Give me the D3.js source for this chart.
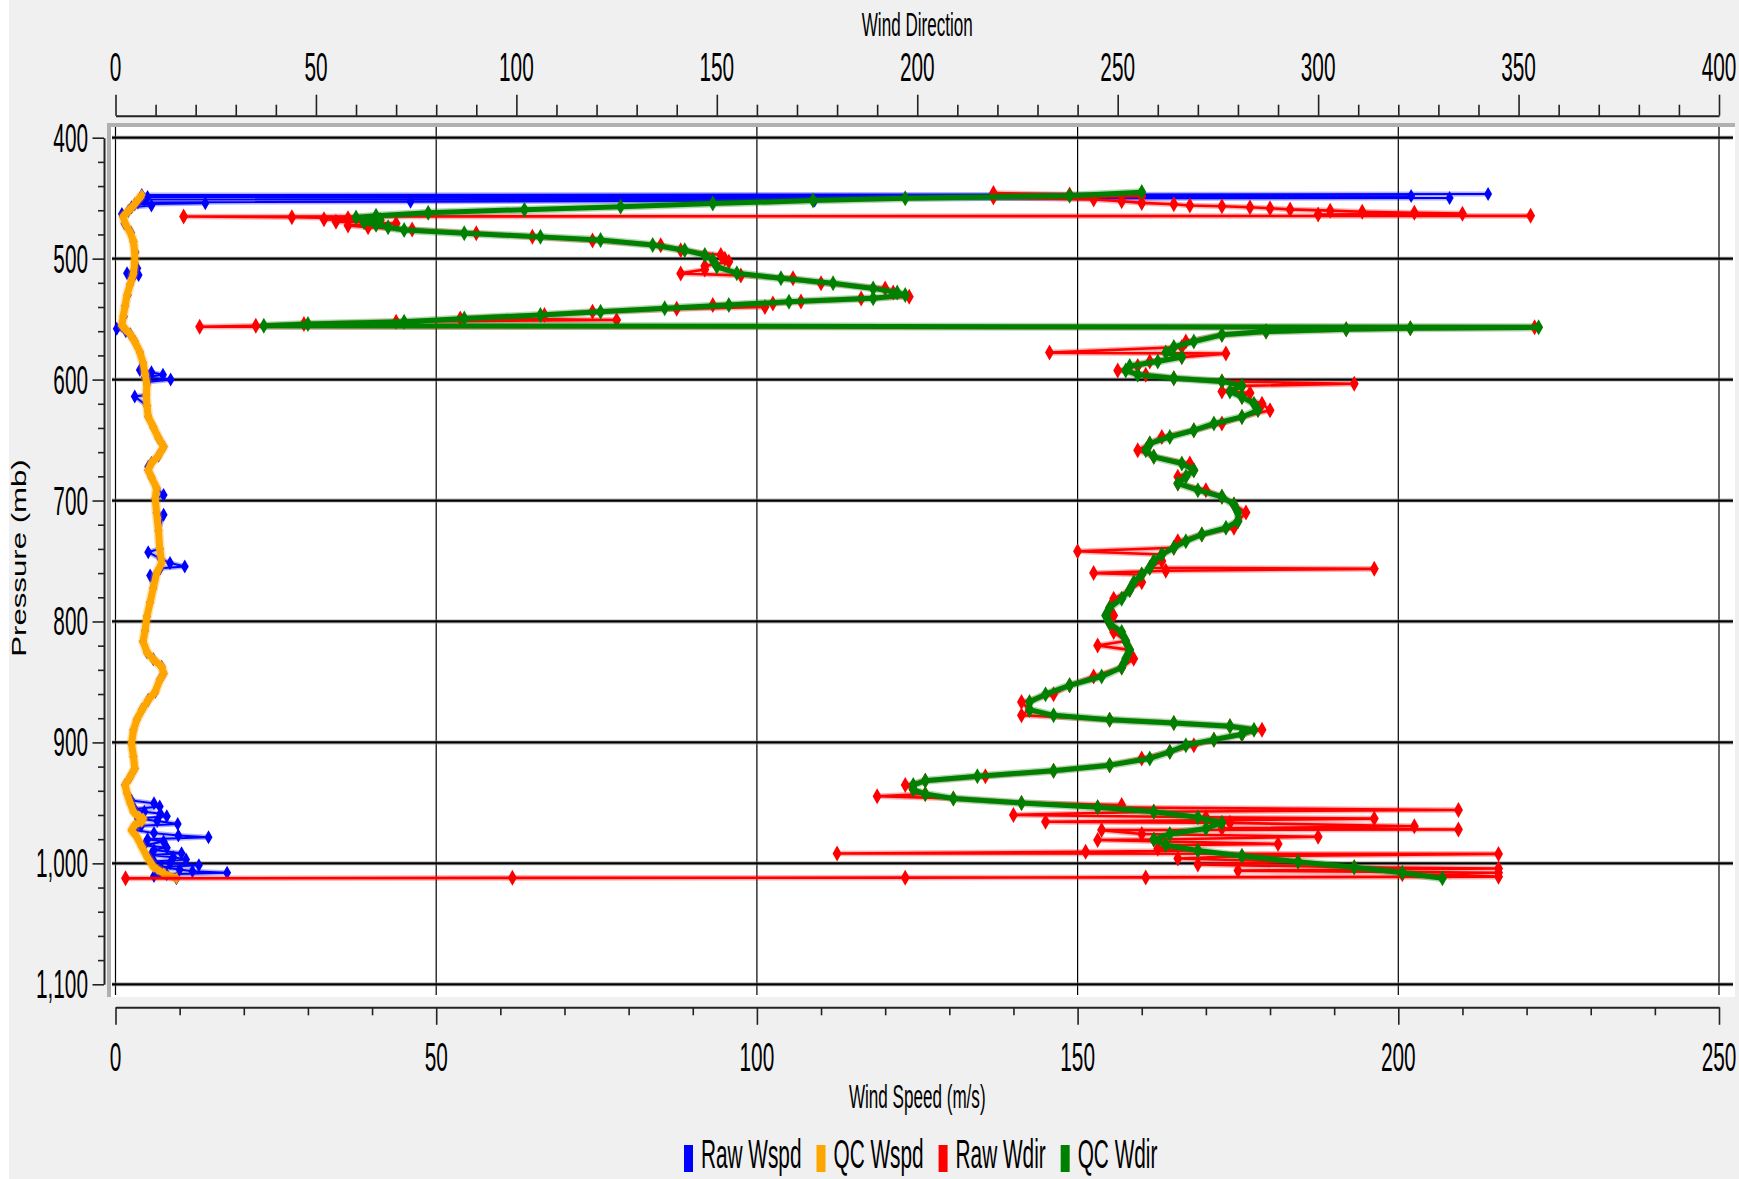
<!DOCTYPE html>
<html>
<head>
<meta charset="utf-8">
<script src="https://cdn.jsdelivr.net/npm/d3@7"></script>
<style>
  html, body { margin: 0; padding: 0; background: #f0f0f0; }
  svg { display: block; }
  text { font-family: "Liberation Sans", Arial, sans-serif; fill: #000; }
</style>
</head>
<body>
<svg id="chart" width="1739" height="1179"></svg>
<script>
// ---- Sounding profile: [pressure (mb), value] ----
const rawWspd = [
  [446.6,214],[447.4,4.1],[448.2,202],[449,5],[449.8,208],[451,4.5],[452,109],[452.9,46],[453.5,3.5],[454.3,14],
  [455,3.0],[456,5.6],[457.5,2.5],[460.7,2.0],[463,1.0],[465.1,1.2],[471,1.4],[478.4,2.4],[485.8,2.8],[494.7,3.1],
  [503.5,3.0],[508,3.4],[512,1.8],[513.5,3.6],[515,2.8],[521.2,2.3],[530.1,1.9],[539,1.5],[547.8,1.3],[555.2,1.0],
  [558,0.2],[560,1.6],[562.6,2.3],[568.5,3.0],[577.3,3.8],[586.2,4.3],[592,3.8],[594,5.6],[596,7.4],[598,4.6],
  [600,8.6],[602,5.0],[603.9,4.9],[612.8,4.8],[614,3.0],[621.6,4.9],[630.5,5.1],[639.4,5.9],[648.2,6.7],[655.6,7.5],
  [663,6.7],[668.9,5.6],[672,5.1],[674.8,5.1],[680.7,5.6],[689.6,6.4],[695.5,7.5],[698.4,6.2],[710.2,6.4],[711.7,7.5],
  [725,6.7],[739.8,6.9],[742.7,5.1],[748,7.0],[751.6,8.5],[754.5,10.8],[756,7.0],[760.4,6.4],[762,5.4],[772.2,5.9],
  [784.1,5.4],[795.9,4.9],[807.7,4.6],[816.5,4.3],[825.4,4.9],[831.3,5.9],[837.4,7.2],[843.1,7.5],[848.4,6.9],[858.1,6.2],
  [865,5.1],[873.2,4.1],[881.5,3.3],[889.8,2.8],[900.8,2.5],[911.8,2.8],[921.5,3.0],[928.4,2.3],[935.3,1.5],[942.1,1.8],
  [948,2.5],[950.4,6.0],[953,6.9],[955,3.0],[957.3,4.5],[959,7.0],[961,8.0],[963,3.5],[965,6.5],[967.4,9.7],
  [969,4.0],[972.5,3.0],[975,6.0],[977,9.8],[978.4,14.5],[980,5.0],[982,7.5],[985,4.5],[987,8.0],[989,6.0],
  [991.7,10.3],[993,5.5],[995,9.0],[996.8,11.0],[998.5,6.0],[1000,8.5],[1001.5,13.0],[1003,7.0],[1005,10.0],[1006.5,12.0],
  [1007.8,17.4],[1009,8.0],[1010.5,6.0],[1012.4,9.5]
];

const qcWspd = [
  [447.4,4.1],[454.8,3.0],[460.7,2.0],[465.1,1.2],[471,1.5],[478.4,2.3],[485.8,2.8],[494.7,3.0],[503.5,3.0],[512.4,2.8],
  [521.2,2.3],[530.1,1.8],[539,1.5],[547.8,1.2],[555.2,1.0],[558.2,1.5],[562.6,2.3],[568.5,3.0],[577.3,3.8],[586.2,4.3],
  [595,4.6],[603.9,4.9],[612.8,4.8],[621.6,4.9],[630.5,5.1],[639.4,5.9],[648.2,6.7],[655.6,7.5],[663,6.7],[668.9,5.6],
  [674.8,5.1],[680.7,5.6],[689.6,6.4],[698.4,6.2],[710.2,6.4],[725,6.7],[739.8,6.9],[751.6,7.2],[760.4,6.4],[772.2,5.9],
  [784.1,5.4],[795.9,4.9],[807.7,4.6],[816.5,4.3],[825.4,4.9],[831.3,5.9],[837.4,7.2],[843.1,7.5],[848.4,6.9],[858.1,6.2],
  [865,5.1],[873.2,4.1],[881.5,3.3],[889.8,2.8],[900.8,2.5],[911.8,2.8],[921.5,3.0],[928.4,2.3],[935.3,1.5],[942.1,1.8],
  [950.4,2.3],[957.3,2.8],[961.4,3.6],[963,4.3],[965.6,4.1],[968.3,3.0],[972.5,2.5],[978,3.3],[986.2,4.1],[994.5,4.9],
  [1002.8,5.9],[1008.3,7.5],[1012.4,9.5]
];

const rawWdir = [
  [445.7,219],[447,238],[448.2,256],[449.5,219],[451,244],[452.5,251],[453.9,256],[455,264],[456,268],[456.7,276],
  [457.5,283],[458.3,288],[459.3,293],[460.3,303],[461.2,311],[462,324],[462.8,336],[463.6,300],[464.6,353],[465.2,17],
  [465.8,44],[466.5,58],[467.5,52],[468.5,66],[469.5,55],[471,70],[472.5,58],[474,63],[476,74],[479,90],
  [482,104],[485,119],[489,136],[493,141],[497,151],[500,152],[502.5,153],[506,147],[509,147],[512.2,141],
  [514,156],[516.3,169],[520.4,176],[524.6,192],[528,194],[531.5,198],[533,186],[535.5,171],[537,164],[538.4,149],
  [540,162],[541.5,140],[544,119],[546.6,107],[549.4,86],[550.7,125],[552.1,70],[554,47],[555.5,35],[556.3,21],
  [556.8,354],[557.5,323],[558.4,307],[560.3,287],[563,276],[568.5,267],[573,266],[577.7,233],[578.5,277],[581.4,266],
  [585,258],[588.7,255],[592.4,250],[596,257],[598.8,264],[601.5,276],[603.4,309],[605.2,281],[609.8,276],[611,283],
  [614.4,281],[619.9,286],[625.4,288],[630.9,281],[636.4,276],[641.9,269],[647.4,261],[652.9,258],[658.4,255],[663.9,259],
  [669.4,268],[674.9,269],[680.4,265],[685.9,265],[691.4,272],[696.9,276],[703.3,279],[709.8,282],[717.1,280],[722.6,279],
  [728.1,271],[733.6,265],[739.1,264],[741.9,240],[744.6,261],[750.1,261],[755.6,258],[756.5,314],[758,262],[760,244],
  [761.1,256],[767.5,256],[773.9,253],[781.3,249],[788.6,248],[795,249],[801.5,248],[808.8,249],[816.1,252],[819.8,245],
  [823.5,253],[830.8,254],[838.1,251],[845.5,244],[852.8,238],[860.1,234],[866.6,226],[873,228],[877.6,226],[881.2,248],
  [884,264],[886.7,278],[889.5,286],[893.2,281],[897.7,274],[902.3,269],[907.8,263],[913.3,256],[918.8,248],[923.4,234],
  [928,217],[931.7,202],[935.3,197],[939,199],[942.7,202],[944.5,190],[946.3,209],[950,226],[951.8,251],[953.7,245],
  [955.9,335],[957.3,259],[960,224],[961.9,272],[963,314],[965.6,232],[966.5,278],[969.3,324],[971.1,276],[972,335],
  [972.5,246],[975.7,256],[978,300],[980.3,259],[980.7,245],[984,290],[984.9,262],[988,260],[989.4,270],[990.4,242],
  [991.8,180],[992.2,345],[994,281],[996,265],[998.6,295],[1001,270],[1003.2,309],[1004.2,345],[1006,280],[1007.8,345],
  [1009,321],[1011,345],[1011.6,257],[1011.8,197],[1012,99],[1012.4,2.5]
];

const qcWdir = [
  [445,256],[448,238],[450,197],[452,174],[454.5,149],[457,126],[459.5,102],[462,78],[464.5,65],[466,60],
  [468,66],[470,62],[472,65],[474,68],[476.3,72],[479,87],[482,106],[484.6,121],[488.7,134],[493,142],
  [497,147],[501,149],[506.7,150],[512,155],[516.3,166],[520.4,179],[524.6,189],[528,195],[530.1,197],[532.8,189],
  [535.6,168],[538.4,153],[541.1,137],[543.9,121],[546.6,106],[549.4,87],[552.1,72],[554.1,48],[555.4,37],[556.8,355],
  [557.5,323],[558.4,307],[560.3,287],[563,276],[568.5,269],[573,264],[577.7,262],[581.4,266],[585,260],[588.7,253],
  [592.4,252],[596,255],[598.8,264],[601.5,276],[605.2,281],[609.8,278],[614.4,281],[619.9,284],[625.4,285],[630.9,281],
  [636.4,274],[641.9,269],[647.4,263],[652.9,258],[658.4,257],[663.9,259],[669.4,266],[674.9,269],[680.4,267],[685.9,265],
  [691.4,270],[696.9,276],[703.3,279],[709.8,280],[717.1,280],[722.6,277],[728.1,271],[733.6,267],[739.1,264],[744.6,261],
  [750.1,259],[755.6,258],[761.1,256],[767.5,254],[773.9,253],[781.3,251],[788.6,248],[795,247],[801.5,248],[808.8,251],
  [816.1,252],[823.5,253],[830.8,252],[838.1,251],[845.5,246],[852.8,238],[860.1,232],[866.6,228],[873,228],[877.6,234],
  [881.2,248],[884,264],[886.7,278],[889.5,284],[893.2,281],[897.7,274],[902.3,267],[907.8,263],[913.3,258],[918.8,248],
  [923.4,234],[928,215],[931.7,202],[935.3,199],[939,199],[942.7,202],[946.3,209],[950,226],[953.7,245],[957.3,259],
  [961.9,270],[966.5,276],[971.1,272],[975.7,263],[980.3,259],[984.9,262],[989.4,270],[994,281],[998.6,295],[1003.2,309],
  [1007.8,321],[1012.4,331]
];

// ---- Axis tick values ----
const pressureTicks = [400, 500, 600, 700, 800, 900, 1000, 1100];
const speedTicks = [0, 50, 100, 150, 200, 250];
const directionTicks = [0, 50, 100, 150, 200, 250, 300, 350, 400];

const legendItems = [
  { label: "Raw Wspd", color: "#0000ff" },
  { label: "QC Wspd",  color: "#ffa500" },
  { label: "Raw Wdir", color: "#ff0000" },
  { label: "QC Wdir",  color: "#008000" }
];

// ---- Layout ----
const W = 1739, H = 1179;
const X0 = 115.5, X1 = 1719, Y0 = 137.7, Y1 = 984.3;
const panel = { x: 111, y: 127, w: 1624, h: 870 };
const SX = 0.52; // horizontal squeeze of all lettering

const speedX = d3.scaleLinear().domain([0, 250]).range([X0, X1]);
const dirX = d3.scaleLinear().domain([0, 400]).range([X0, X1]);
const presY = d3.scaleLinear().domain([400, 1100]).range([Y0, Y1]);

const svg = d3.select("#chart");

function sText(parent, x, y, str, size, anchor, sx = SX) {
  return parent.append("text")
    .attr("transform", `translate(${x},${y}) scale(${sx},1)`)
    .attr("text-anchor", anchor)
    .attr("font-size", size)
    .text(str);
}

// background & panel
svg.append("rect").attr("width", W).attr("height", H).attr("fill", "#f0f0f0");
svg.append("rect").attr("x", 0).attr("y", 0).attr("width", 9).attr("height", H).attr("fill", "#ffffff");
svg.append("rect").attr("x", panel.x).attr("y", panel.y).attr("width", panel.w).attr("height", panel.h).attr("fill", "#ffffff");
// inset bevel (top + left)
svg.append("rect").attr("x", 107).attr("y", 123).attr("width", panel.x + panel.w - 107).attr("height", 4).attr("fill", "#b0b0b0");
svg.append("rect").attr("x", 107).attr("y", 123).attr("width", 4).attr("height", panel.y + panel.h - 123).attr("fill", "#b0b0b0");

svg.append("defs").append("clipPath").attr("id", "plotClip")
  .append("rect").attr("x", panel.x).attr("y", panel.y).attr("width", panel.w).attr("height", panel.h);

// grid
const grid = svg.append("g");
grid.selectAll("line.v").data(speedTicks).join("line")
  .attr("x1", d => speedX(d)).attr("x2", d => speedX(d))
  .attr("y1", panel.y).attr("y2", 995)
  .attr("stroke", "#000").attr("stroke-width", 1.2);
grid.selectAll("line.hh").data(pressureTicks).join("line")
  .attr("x1", panel.x + 1).attr("x2", 1733)
  .attr("y1", d => presY(d)).attr("y2", d => presY(d))
  .attr("stroke", "#8a8a8a").attr("stroke-width", 4.5).attr("stroke-opacity", 0.45);
grid.selectAll("line.h").data(pressureTicks).join("line")
  .attr("x1", panel.x + 1).attr("x2", 1733)
  .attr("y1", d => presY(d)).attr("y2", d => presY(d))
  .attr("stroke", "#000").attr("stroke-width", 2.2);

// axes
function styleAxis(g) {
  g.select(".domain").attr("stroke", "#222").attr("stroke-width", 2);
  g.selectAll(".tick line").attr("stroke", "#222").attr("stroke-width", 1.6);
}

const topAxis = svg.append("g").attr("transform", "translate(0,115.7)")
  .call(d3.axisTop(dirX).tickValues(d3.range(0, 401, 10)).tickSize(11).tickSizeOuter(0).tickFormat(""));
topAxis.selectAll(".tick").filter(d => d % 50 === 0).select("line").attr("y2", -21);
styleAxis(topAxis);

const bottomAxis = svg.append("g").attr("transform", "translate(0,1007.3)")
  .call(d3.axisBottom(speedX).tickValues(d3.range(0, 251, 10)).tickSize(8).tickSizeOuter(0).tickFormat(""));
bottomAxis.selectAll(".tick").filter(d => d % 50 === 0).select("line").attr("y2", 17.5);
styleAxis(bottomAxis);

const leftAxis = svg.append("g").attr("transform", "translate(104,0)")
  .call(d3.axisLeft(presY).tickValues(d3.range(400, 1101, 20)).tickSize(6).tickSizeOuter(0).tickFormat(""));
leftAxis.selectAll(".tick").filter(d => d % 100 === 0).select("line").attr("x2", -11.5);
styleAxis(leftAxis);

// tick labels
directionTicks.forEach(v => sText(svg, dirX(v), 81, v, 40, "middle"));
speedTicks.forEach(v => sText(svg, speedX(v), 1071, v, 40, "middle"));
const fmt = d3.format(",");
pressureTicks.forEach(v => sText(svg, 88, presY(v) + 14, fmt(v), 40, "end"));

// titles
sText(svg, (X0 + X1) / 2, 36, "Wind Direction", 33.5, "middle", 0.51);
sText(svg, (X0 + X1) / 2, 1108, "Wind Speed (m/s)", 33.5, "middle", 0.51);
svg.append("text")
  .attr("transform", "translate(26,558) rotate(-90) scale(1.56,1)")
  .attr("text-anchor", "middle")
  .attr("font-size", 20)
  .text("Pressure (mb)");

// series (drawn in legend order, QC direction on top)
const series = [
  { data: rawWspd, x: speedX, color: "#0000ff", width: 2,   hw: 4,   hh: 7 },
  { data: qcWspd,  x: speedX, color: "#ffa500", width: 7,   hw: 4,   hh: 6 },
  { data: rawWdir, x: dirX,   color: "#ff0000", width: 2.6, hw: 4.5, hh: 8 },
  { data: qcWdir,  x: dirX,   color: "#008000", width: 5,   hw: 4.5, hh: 8 }
];

const plot = svg.append("g").attr("clip-path", "url(#plotClip)");
series.forEach(s => {
  const line = d3.line().x(d => s.x(d[1])).y(d => presY(d[0]));
  const g = plot.append("g");
  g.append("path").attr("d", line(s.data)).attr("fill", "none")
    .attr("stroke", s.color).attr("stroke-opacity", 0.3)
    .attr("stroke-width", s.width + 3).attr("stroke-linejoin", "round");
  g.append("path").attr("d", line(s.data)).attr("fill", "none")
    .attr("stroke", s.color).attr("stroke-width", s.width).attr("stroke-linejoin", "round");
  g.selectAll("path.mk").data(s.data).join("path")
    .attr("class", "mk")
    .attr("transform", d => `translate(${s.x(d[1])},${presY(d[0])})`)
    .attr("d", `M0,${-s.hh}L${s.hw},0L0,${s.hh}L${-s.hw},0Z`)
    .attr("fill", s.color);
});

// legend
const legend = svg.append("g");
let lx = 684;
legendItems.forEach(it => {
  legend.append("rect").attr("x", lx).attr("y", 1145).attr("width", 9).attr("height", 27).attr("fill", it.color);
  const t = sText(legend, lx + 17, 1168, it.label, 40, "start");
  const w = t.node().getComputedTextLength() * SX;
  lx += 17 + w + 15;
});
</script>
</body>
</html>
